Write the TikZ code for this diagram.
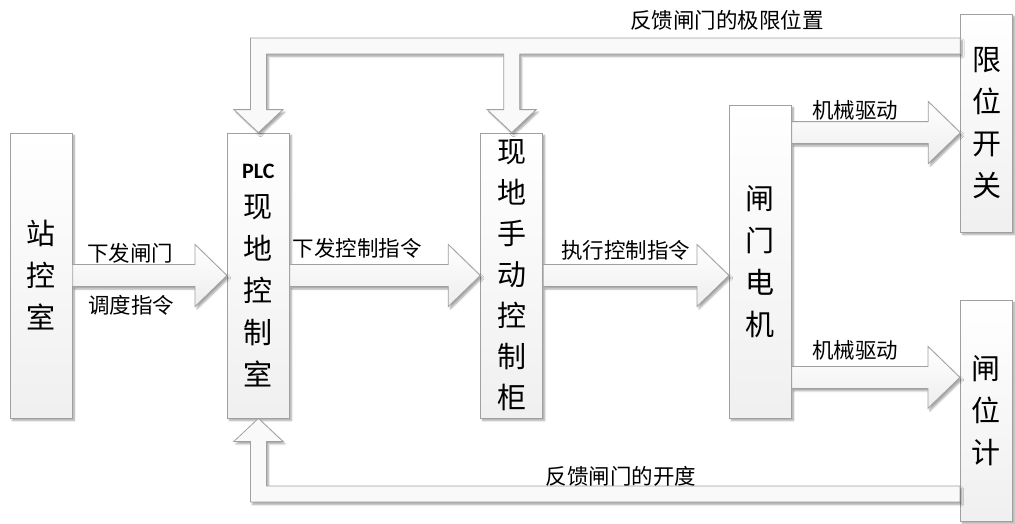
\documentclass[tikz,border=0pt]{standalone}
\usepackage{fontspec}
\newfontfamily\cjk{Noto Sans CJK SC}
\newfontfamily\calib{Carlito}
\usetikzlibrary{calc,shadows.blur}
\definecolor{edge}{HTML}{A0A0A0}
\tikzset{
  shad/.style={blur shadow={shadow xshift=2pt, shadow yshift=-2.5pt, shadow blur steps=6, shadow opacity=35}},
  box/.style={draw=edge, line width=0.8pt, top color=white, bottom color=gray!12, shad,
    minimum width=62pt, inner sep=0pt, align=center, font=\cjk\fontsize{29}{42}\selectfont},
  fat/.style={draw=edge, line width=0.8pt, top color=white, bottom color=gray!14, shad},
  fatv/.style={draw=edge, line width=0.8pt, fill=gray!5, shad},
  lab/.style={font=\cjk\fontsize{21.5}{24}\selectfont, inner sep=0pt}
}
% horizontal block arrow from #1 to #2 (same height)
\newcommand\hfat[2]{%
  \path[fat] let \p1=(#1), \p2=(#2) in
    (\x1,\y1+11pt) -- (\x2-32pt,\y1+11pt) -- (\x2-32pt,\y1+31pt) -- (\x2,\y1)
    -- (\x2-32pt,\y1-31pt) -- (\x2-32pt,\y1-11pt) -- (\x1,\y1-11pt) -- cycle;}
\begin{document}
\begin{tikzpicture}[x=1pt,y=-1pt]
\useasboundingbox (0,0) rectangle (1015,523);
% boxes
\node[box, minimum height=285pt] (zk) at (41.3,275.5) {站\\控\\室};
\node[box, minimum height=285pt] (plc) at (258.4,275.5) {{\calib\bfseries\fontsize{22}{22}\selectfont PLC}\\[-3pt]现\\地\\控\\制\\室};
\node[box, minimum height=285pt, font=\cjk\fontsize{29}{41}\selectfont] (sg) at (511.7,275.5) {现\\地\\手\\动\\控\\制\\柜};
\node[box, minimum height=313pt] (dj) at (760.4,261.5) {闸\\门\\电\\机};
\node[box, minimum width=52pt, minimum height=218pt] (xw) at (986.7,123) {限\\位\\开\\关};
\node[box, minimum width=52pt, minimum height=221pt] (zw) at (986.3,410.5) {闸\\位\\计};
% helper coordinates
\coordinate (tb) at (0,46);
\coordinate (bb) at (0,494);
\coordinate (m1) at ($(dj.north east)+(0,28)$);
\coordinate (m2) at ($(dj.south east)+(0,-41)$);
% horizontal arrows
\hfat{zk.east}{plc.west}
\hfat{plc.east}{sg.west}
\hfat{sg.east}{sg.east -| dj.west}
\hfat{m1}{m1 -| xw.west}
\hfat{m2}{m2 -| zw.west}
% top feedback
\path[fatv] let \p1=(plc.north), \p2=(sg.north), \p3=(xw.west), \p4=(tb) in
  (\x3,\y4+8pt) -- (\x1-8pt,\y4+8pt) -- (\x1-8pt,\y1+23pt) -- (\x1-24.5pt,\y1+23pt)
  -- (\x1,\y1) -- (\x1+24.5pt,\y1+23pt) -- (\x1+8pt,\y1+23pt) -- (\x1+8pt,\y4-8pt)
  -- (\x2-8pt,\y4-8pt) -- (\x2-8pt,\y2+23pt) -- (\x2-24.5pt,\y2+23pt) -- (\x2,\y2)
  -- (\x2+24.5pt,\y2+23pt) -- (\x2+8pt,\y2+23pt) -- (\x2+8pt,\y4-8pt) -- (\x3,\y4-8pt) -- cycle;
% bottom feedback
\path[fatv] let \p1=(plc.south), \p3=(zw.west), \p4=(bb) in
  (\x3,\y4+8pt) -- (\x1+8pt,\y4+8pt) -- (\x1+8pt,\y1-23pt) -- (\x1+24.5pt,\y1-23pt)
  -- (\x1,\y1) -- (\x1-24.5pt,\y1-23pt) -- (\x1-8pt,\y1-23pt) -- (\x1-8pt,\y4-8pt)
  -- (\x3,\y4-8pt) -- cycle;
% labels
\node[lab] (l1) at (727,20) {反馈闸门的极限位置};
\node[lab] (l2) at (130,253) {下发闸门};
\node[lab] (l3) at (131,305) {调度指令};
\node[lab] (l4) at (357,248) {下发控制指令};
\node[lab] (l5) at (625.5,250) {执行控制指令};
\node[lab] (l6) at (855,110) {机械驱动};
\node[lab] (l7) at (855,350) {机械驱动};
\node[lab] (l8) at (621,476) {反馈闸门的开度};
\end{tikzpicture}
\end{document}
